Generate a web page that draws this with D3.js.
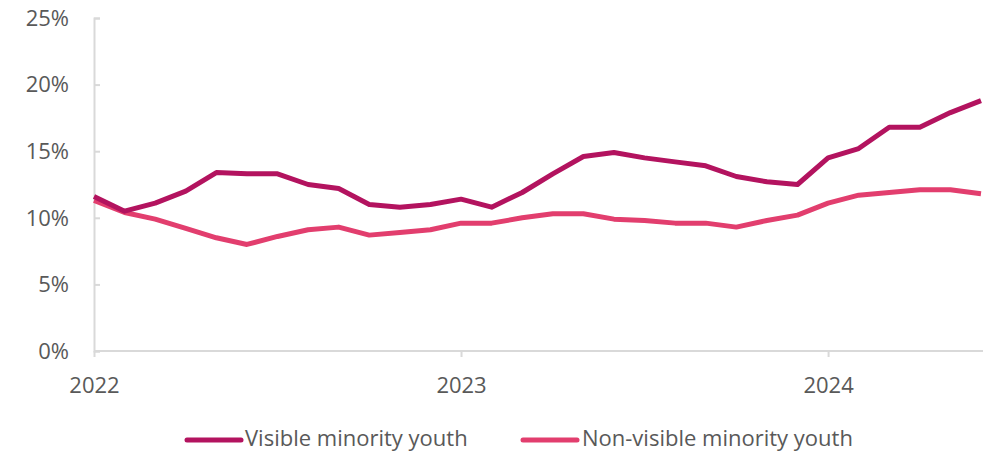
<!DOCTYPE html>
<html>
<head>
<meta charset="utf-8">
<script src="https://cdn.jsdelivr.net/npm/d3@7"></script>
<style>
  body { margin: 0; background: #fff; }
  svg text { font-family: "Open Sans", "Noto Sans", sans-serif; fill: #595959; }
</style>
</head>
<body>
<div id="chart"></div>
<script>
// Monthly data, Jan 2022 to Jun 2024 (month index 0..29)
const months = d3.range(30);
const visibleMinority = [11.6, 10.5, 11.1, 12.0, 13.4, 13.3, 13.3, 12.5, 12.2, 11.0, 10.8, 11.0,
  11.4, 10.8, 11.9, 13.3, 14.6, 14.9, 14.5, 14.2, 13.9, 13.1, 12.7, 12.5,
  14.5, 15.2, 16.8, 16.8, 17.9, 18.8];
const nonVisibleMinority = [11.3, 10.4, 9.9, 9.2, 8.5, 8.0, 8.6, 9.1, 9.3, 8.7, 8.9, 9.1,
  9.6, 9.6, 10.0, 10.3, 10.3, 9.9, 9.8, 9.6, 9.6, 9.3, 9.8, 10.2,
  11.1, 11.7, 11.9, 12.1, 12.1, 11.8];
const yTicks = [0, 5, 10, 15, 20, 25];
const xTicks = [0, 12, 24];
const xTickLabels = ["2022", "2023", "2024"];

const seriesList = [
  { name: "Visible minority youth", values: visibleMinority, color: "#b3135f" },
  { name: "Non-visible minority youth", values: nonVisibleMinority, color: "#e23e6e" },
];

const width = 998, height = 453;

const svg = d3.select("#chart").append("svg")
  .attr("width", width)
  .attr("height", height);

// Scales
const x = d3.scaleLinear().domain([0, 29]).range([94, 981]);
const y = d3.scaleLinear().domain([0, 25]).range([351, 18]);

// Y axis: line plus inward ticks
const yAxis = d3.axisRight(y).tickValues(yTicks).tickSize(6).tickFormat("");
const yG = svg.append("g").attr("transform", "translate(94,0)").call(yAxis);
yG.select(".domain").attr("stroke", "#d9d9d9").attr("stroke-width", 2);
yG.selectAll(".tick line").attr("stroke", "#d9d9d9").attr("stroke-width", 2);

svg.append("g").selectAll("text")
  .data(yTicks)
  .join("text")
  .attr("x", 69)
  .attr("y", d => y(d))
  .attr("dy", "0.35em")
  .attr("text-anchor", "end")
  .style("font-size", "22px")
  .text(d => d + "%");

// X axis
const xAxis = d3.axisBottom(x).tickValues(xTicks).tickSize(6)
  .tickFormat((d, i) => xTickLabels[i]);
const xG = svg.append("g").attr("transform", "translate(0,351)").call(xAxis);
xG.select(".domain")
  .attr("d", "M94,0H983")
  .attr("stroke", "#d9d9d9").attr("stroke-width", 2);
xG.selectAll(".tick line").attr("stroke", "#d9d9d9").attr("stroke-width", 2);
xG.selectAll(".tick text")
  .attr("y", 42)
  .attr("dy", 0)
  .style("font-size", "22px")
  .style("font-family", "'Open Sans', 'Noto Sans', sans-serif")
  .attr("fill", "#595959");

// Lines
const line = d3.line()
  .x((d, i) => x(months[i]))
  .y(d => y(d));

seriesList.slice().reverse().forEach(s => {
  svg.append("path")
    .datum(s.values)
    .attr("fill", "none")
    .attr("stroke", s.color)
    .attr("stroke-width", 5)
    .attr("stroke-linejoin", "round")
    .attr("d", line);
});

// Legend
const legendPos = [{ lx: 187, tx: 245 }, { lx: 523, tx: 582 }];
seriesList.forEach((s, i) => {
  const g = svg.append("g");
  g.append("line")
    .attr("x1", legendPos[i].lx).attr("x2", legendPos[i].lx + 54)
    .attr("y1", 440).attr("y2", 440)
    .attr("stroke", s.color)
    .attr("stroke-width", 5)
    .attr("stroke-linecap", "round");
  g.append("text")
    .attr("x", legendPos[i].tx)
    .attr("y", 446)
    .style("font-size", "22px")
    .text(s.name);
});
</script>
</body>
</html>
